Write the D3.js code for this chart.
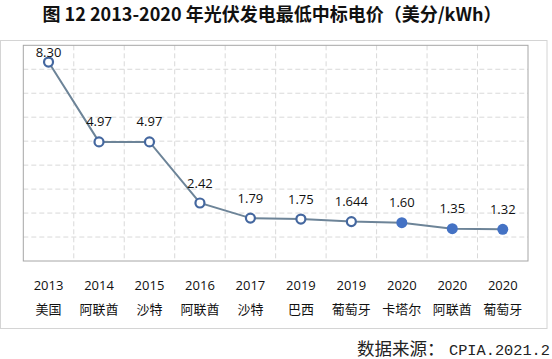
<!DOCTYPE html>
<html><head><meta charset="utf-8">
<script src="https://cdn.jsdelivr.net/npm/d3@7"></script>
<style>body{margin:0;background:#fff}svg{display:block}</style>
</head><body>
<svg id="c" width="552" height="359"></svg>
<script>
const years = ["2013","2014","2015","2016","2017","2019","2019","2020","2020","2020"];
const countries = ["美国","阿联酋","沙特","阿联酋","沙特","巴西","葡萄牙","卡塔尔","阿联酋","葡萄牙"];
const prices = [8.30, 4.97, 4.97, 2.42, 1.79, 1.75, 1.644, 1.60, 1.35, 1.32];
const priceLabels = ["8.30","4.97","4.97","2.42","1.79","1.75","1.644","1.60","1.35","1.32"];
const filled = [false,false,false,false,false,false,false,true,true,true];
const yTicks = [0,1,2,3,4,5,6,7,8,9];

const svg = d3.select("#c");
const L = 23.3, R = 528, T = 45.3, B = 261;
const idx = d3.range(prices.length);
const x = d3.scaleBand().domain(idx).range([L, R]);
const y = d3.scaleLinear().domain([0, 9]).range([B, T]);

// title
svg.append("text").attr("x", 272).attr("y", 20.5).attr("text-anchor", "middle")
  .attr("font-family", "'Noto Sans CJK SC', sans-serif").attr("font-weight", "bold")
  .attr("font-size", 18).attr("fill", "#111")
  .text("图 12 2013-2020 年光伏发电最低中标电价（美分/kWh）");

// outer frame
svg.append("rect").attr("x", 0.5).attr("y", 40.5).attr("width", 546.5).attr("height", 288)
  .attr("fill", "none").attr("stroke", "#d4d4d4");

// grid
const g = svg.append("g");
g.selectAll("line.h").data(yTicks.slice(1, -1)).join("line")
  .attr("x1", L).attr("x2", R).attr("y1", d => y(d)).attr("y2", d => y(d))
  .attr("stroke", "#d9d9d9").attr("stroke-dasharray", "5,3");
g.selectAll("line.v").data(idx.slice(1)).join("line")
  .attr("x1", d => x(d)).attr("x2", d => x(d)).attr("y1", T).attr("y2", B)
  .attr("stroke", "#d9d9d9").attr("stroke-dasharray", "5,3");
svg.append("rect").attr("x", L).attr("y", T).attr("width", R - L).attr("height", B - T)
  .attr("fill", "none").attr("stroke", "#a6a6a6");

// line
const cx = i => x(i) + x.bandwidth() / 2;
svg.append("path").datum(idx)
  .attr("d", d3.line().x(i => cx(i)).y(i => y(prices[i])))
  .attr("fill", "none").attr("stroke", "#6d8498").attr("stroke-width", 2);

svg.selectAll("circle.m").data(idx).join("circle")
  .attr("cx", i => cx(i)).attr("cy", i => y(prices[i]))
  .attr("r", i => filled[i] ? 5.5 : 4.5)
  .attr("fill", i => filled[i] ? "#4472c4" : "#fff")
  .attr("stroke", i => filled[i] ? "#4472c4" : "#44679f")
  .attr("stroke-width", i => filled[i] ? 0 : 2.2);

// data labels
svg.selectAll("text.v").data(idx).join("text")
  .attr("x", i => cx(i)).attr("y", i => Math.max(y(prices[i]) - 15.5, 57))
  .attr("text-anchor", "middle").attr("font-family", "'Open Sans', 'Noto Sans', sans-serif")
  .attr("font-size", 13).attr("fill", "#111").text(i => priceLabels[i]);

// x axis labels
const ax = svg.append("g").attr("transform", `translate(0,${B})`)
  .call(d3.axisBottom(x).tickSize(0).tickPadding(0).tickFormat(i => years[i]));
ax.select(".domain").remove();
ax.selectAll("text").attr("y", 28.5).attr("dy", 0)
  .attr("font-family", "'Open Sans', 'Noto Sans', sans-serif").attr("font-size", 13).attr("fill", "#111");
const ax2 = svg.append("g").attr("transform", `translate(0,${B})`)
  .call(d3.axisBottom(x).tickSize(0).tickPadding(0).tickFormat(i => countries[i]));
ax2.select(".domain").remove();
ax2.selectAll("text").attr("y", 53).attr("dy", 0)
  .attr("font-family", "'Noto Sans CJK SC', sans-serif").attr("font-size", 13).attr("fill", "#111");

// source
const src = svg.append("text").attr("x", 357).attr("y", 355)
  .attr("font-family", "'Noto Sans CJK SC', sans-serif").attr("font-size", 17.5)
  .attr("fill", "#222");
src.append("tspan").text("数据来源：");
src.append("tspan").attr("x", 449).attr("font-family", "'Liberation Mono', monospace")
  .attr("font-size", 15.3).text("CPIA.2021.2");
</script>
</body></html>
